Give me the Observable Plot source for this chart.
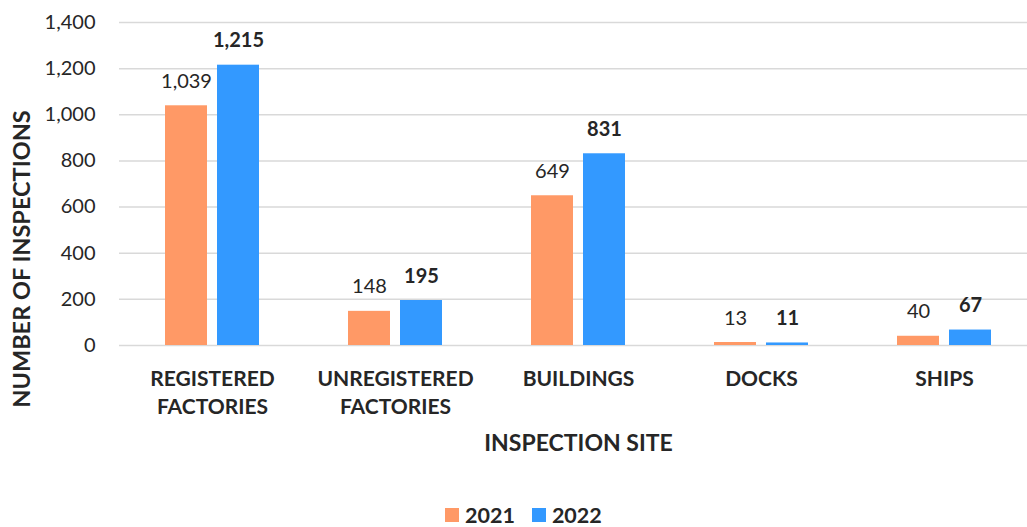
<!DOCTYPE html>
<html>
<head>
<meta charset="utf-8">
<script src="https://cdn.jsdelivr.net/npm/d3@7"></script>
<script src="https://cdn.jsdelivr.net/npm/@observablehq/plot@0.6"></script>
<style>
  html, body { margin: 0; padding: 0; background: #fff; overflow: hidden; }
  #wrap { position: relative; width: 1027px; height: 527px; font-family: Lato, "Open Sans", sans-serif; color: #262626; }
  #legend { position: absolute; left: 445px; top: 503px; display: flex; align-items: center; font-weight: bold; font-size: 21.5px; line-height: 24px; }
  .item { display: flex; align-items: center; margin-right: 17px; }
  .sw { width: 14px; height: 14px; margin-right: 6px; }
</style>
</head>
<body>
<div id="wrap"><div id="chart"></div><div id="legend"></div></div>
<script>
const sites = ["REGISTERED FACTORIES", "UNREGISTERED FACTORIES", "BUILDINGS", "DOCKS", "SHIPS"];
const values2021 = [1039, 148, 649, 13, 40];
const values2022 = [1215, 195, 831, 11, 67];
const years = ["2021", "2022"];
const colors = ["#FF9966", "#3399FF"];
const yTicks = [0, 200, 400, 600, 800, 1000, 1200, 1400];

const data2021 = sites.map((s, i) => ({site: s, value: values2021[i]}));
const data2022 = sites.map((s, i) => ({site: s, value: values2022[i]}));
const fmt = d3.format(",");
const ink = "#262626";

const chart = Plot.plot({
  width: 1027,
  height: 470,
  marginLeft: 119,
  marginRight: -10,
  marginTop: 22,
  marginBottom: 125,
  style: {fontFamily: "Lato, 'Open Sans', sans-serif", fontSize: "20px", color: ink, background: "white", overflow: "visible"},
  x: {domain: sites, paddingInner: 0.488, paddingOuter: 0.244, axis: null},
  y: {domain: [0, 1400], axis: null},
  marks: [
    Plot.ruleY(yTicks, {stroke: "#d9d9d9", strokeWidth: 1.5}),
    Plot.axisY({ticks: yTicks, tickSize: 0, tickPadding: 24, tickFormat: fmt, label: null, fontSize: 20}),
    Plot.axisX({tickSize: 0, tickPadding: 20, label: null, fontSize: 21, fontWeight: "bold", lineHeight: 1.36,
      tickFormat: d => d.replace(" ", "\n")}),
    Plot.barY(data2021, {x: "site", y: "value", fill: colors[0], insetRight: 52}),
    Plot.barY(data2022, {x: "site", y: "value", fill: colors[1], insetLeft: 52}),
    Plot.text(data2021, {x: "site", y: "value", text: d => fmt(d.value), dx: -26, dy: -18, lineAnchor: "bottom", fontSize: 20, fill: ink}),
    Plot.text(data2022, {x: "site", y: "value", text: d => fmt(d.value), dx: 26, dy: -18, lineAnchor: "bottom", fontSize: 20, fontWeight: "bold", fill: ink}),
    Plot.text(["NUMBER OF INSPECTIONS"], {frameAnchor: "left", textAnchor: "middle", rotate: -90, dx: -97, dy: 75, fontSize: 23.5, fontWeight: "bold", fill: ink}),
    Plot.text(["INSPECTION SITE"], {frameAnchor: "bottom", textAnchor: "middle", dy: 105, fontSize: 23, fontWeight: "bold", fill: ink})
  ]
});
document.getElementById("chart").appendChild(chart);

const legend = document.getElementById("legend");
years.forEach((y, i) => {
  const it = document.createElement("div");
  it.className = "item";
  it.innerHTML = `<span class="sw" style="background:${colors[i]}"></span><span>${y}</span>`;
  legend.appendChild(it);
});
</script>
</body>
</html>
